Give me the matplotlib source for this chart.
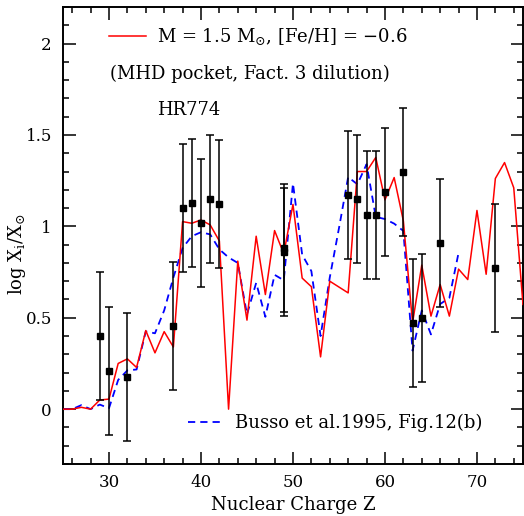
import matplotlib
matplotlib.use("Agg")
import matplotlib.pyplot as plt
from matplotlib.lines import Line2D
from matplotlib.ticker import MultipleLocator

plt.rcParams["font.family"] = "DejaVu Serif"
plt.rcParams["mathtext.fontset"] = "dejavuserif"

# Model: 1.5 Msun, [Fe/H] = -0.6 (MHD pocket, dilution factor 3)
z_model = [25, 26, 27, 28, 29, 30, 31, 32, 33, 34, 35, 36, 37, 38, 39, 40, 41, 42,
           43, 44, 45, 46, 47, 48, 49, 50, 51, 52, 53, 54, 56, 57, 58, 59, 60, 61,
           62, 63, 64, 65, 66, 67, 68, 69, 70, 71, 72, 73, 74, 75]
x_model = [0.0, 0.0, 0.01, 0.0, 0.05, 0.055, 0.25, 0.275, 0.228, 0.43, 0.308, 0.424,
           0.34, 1.026, 1.017, 1.035, 1.008, 0.92, 0.0, 0.81, 0.487, 0.946, 0.627,
           0.977, 0.85, 1.12, 0.717, 0.67, 0.286, 0.70, 0.636, 1.30, 1.30, 1.377,
           1.145, 1.267, 1.03, 0.472, 0.788, 0.509, 0.682, 0.509, 0.766, 0.709,
           1.087, 0.738, 1.262, 1.349, 1.211, 0.573]

# Busso et al. 1995, Fig. 12(b)
z_busso = list(range(25, 69))
x_busso = [0.0, 0.0, 0.022, 0.0, 0.025, 0.005, 0.16, 0.212, 0.217, 0.425, 0.415,
           0.54, 0.72, 0.882, 0.946, 0.968, 0.956, 0.874, 0.83, 0.80, 0.518, 0.691,
           0.505, 0.735, 0.705, 1.235, 0.845, 0.755, 0.40, 0.72, 0.99, 1.27, 1.23,
           1.34, 1.052, 1.04, 1.015, 0.975, 0.32, 0.54, 0.409, 0.575, 0.609, 0.855]

# HR774 observed abundances
z_obs = [29, 30, 32, 37, 38, 39, 40, 41, 42, 49, 49, 56, 57, 58, 59, 60, 62, 63, 64, 66, 72]
x_obs = [0.40, 0.21, 0.175, 0.455, 1.10, 1.13, 1.02, 1.15, 1.12, 0.86, 0.88, 1.17,
         1.15, 1.06, 1.06, 1.19, 1.30, 0.47, 0.50, 0.91, 0.77]
err_obs = [0.35] * len(z_obs)

fig = plt.figure(figsize=(5.24, 5.16), dpi=100)
ax = fig.add_axes([0.1202, 0.1008, 0.8778, 0.8856])

ax.plot(z_model, x_model, color="#ff0000", lw=1.1, zorder=3)
ax.plot(z_busso, x_busso, color="#0000ff", lw=1.3, dashes=(4, 2.8), zorder=2)
ax.errorbar(z_obs, x_obs, yerr=err_obs, fmt="s", color="black", ms=5,
            elinewidth=1.1, capsize=2.8, capthick=1.1, zorder=4)

ax.set_xlim(25, 75)
ax.set_ylim(-0.3, 2.2)
ax.xaxis.set_major_locator(MultipleLocator(10))
ax.xaxis.set_minor_locator(MultipleLocator(2))
ax.yaxis.set_major_locator(MultipleLocator(0.5))
ax.yaxis.set_minor_locator(MultipleLocator(0.1))
ax.yaxis.set_major_formatter(plt.FuncFormatter(lambda v, p: f"{v:g}"))
ax.tick_params(which="both", direction="in", top=True, right=True, width=1.1)
ax.tick_params(which="major", length=9, labelsize=12)
ax.tick_params(axis="x", which="major", pad=7)
ax.tick_params(axis="y", which="major", pad=8)
ax.tick_params(which="minor", length=4.5)
for s in ax.spines.values():
    s.set_linewidth(1.4)

ax.set_xlabel("Nuclear Charge Z", fontsize=13, labelpad=4)
ax.set_ylabel(r"log X$_{\rm i}$/X$_{\odot}$", fontsize=13)
ax.yaxis.set_label_coords(-0.075, 0.46)

# legend entries
h_model = Line2D([], [], color="#ff0000", lw=1.1)
leg1 = ax.legend([h_model], [r"M = 1.5 M$_{\odot}$, [Fe/H] = $-$0.6"],
                 loc="center left", bbox_to_anchor=(0.10, 0.935), frameon=False,
                 fontsize=13, handlelength=2.05, handletextpad=0.6,
                 borderpad=0, borderaxespad=0)
ax.add_artist(leg1)
h_busso = Line2D([], [], color="#0000ff", lw=1.3, dashes=(4, 2.8))
ax.legend([h_busso], ["Busso et al.1995, Fig.12(b)"],
          loc="center left", bbox_to_anchor=(0.272, 0.09), frameon=False,
          fontsize=13, handlelength=1.9, handletextpad=0.7,
          borderpad=0, borderaxespad=0)

ax.text(0.102, 0.853, "(MHD pocket, Fact. 3 dilution)", transform=ax.transAxes,
        fontsize=13, va="center", ha="left")
ax.text(0.205, 0.775, "HR774", transform=ax.transAxes,
        fontsize=13, va="center", ha="left")

fig.savefig("out.png", dpi=100)
